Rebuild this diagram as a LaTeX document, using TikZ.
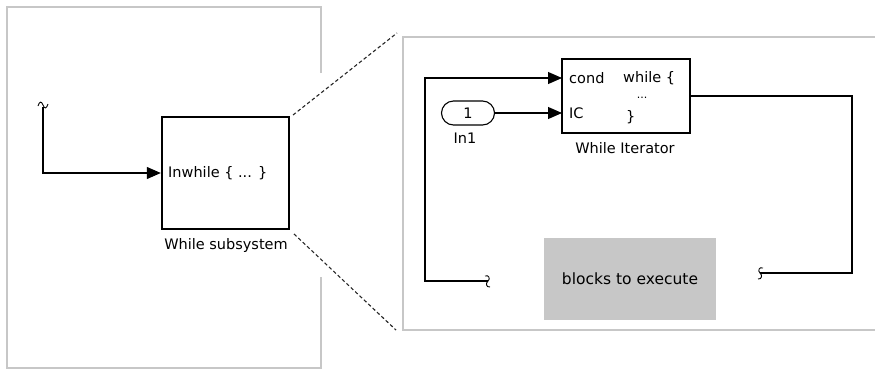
\documentclass[tikz,border=0pt]{standalone}
\usepackage{fontspec}
\setmainfont{DejaVu Sans}
\usetikzlibrary{arrows.meta,shapes.misc}
\begin{document}
\begin{tikzpicture}[x=1pt,y=-1pt,
  font=\fontsize{14.5}{16}\selectfont,
  wire/.style={draw=black, line width=1.1pt},
  arr/.style={-{Triangle[length=14pt,width=12pt]}},
  frame/.style={draw=black!22, line width=1.3pt},
  lbl/.style={inner sep=0pt},
  squig/.style={draw=black, line width=0.9pt},
  zoomline/.style={draw=black!85, line width=1.1pt, dash pattern=on 3.5pt off 2.5pt}]
\useasboundingbox (0,0) rectangle (875,378);
% left panel frame
\draw[frame] (321,73) -- (321,7) -- (7,7) -- (7,368) -- (321,368) -- (321,277);
% right panel frame
\draw[frame] (875,37) -- (403,37) -- (403,330) -- (875,330);
% while subsystem
\node[draw, line width=2.4pt, minimum width=127pt, minimum height=112pt, inner sep=0pt] (sub) at (225.5,173) {};
\node[lbl, anchor=west] (subtxt) at (168,173) {Inwhile \{ ... \}};
\node[lbl] (sublbl) at (226,245) {While subsystem};
% input to subsystem
\coordinate (in0) at (43,107);
\draw[wire,arr] (in0) |- (sub.west);
\draw[squig] (38,106) .. controls (39.5,101) and (41.5,101) .. (43,105) .. controls (44.5,109) and (46.5,109) .. (48,104);
% zoom lines
\coordinate (z1a) at (293,115);
\coordinate (z1b) at (397,33);
\coordinate (z2a) at (294,234);
\coordinate (z2b) at (396,330);
\draw[zoomline] (z1a) -- (z1b);
\draw[zoomline] (z2a) -- (z2b);
% while iterator
\node[draw, line width=1.1pt, minimum width=128pt, minimum height=74pt, inner sep=0pt] (wi) at (626,96) {};
\node[lbl, anchor=west] (tcond) at (569,78) {cond};
\node[lbl, anchor=west] (tic) at (569,113) {IC};
\node[lbl, anchor=west] (twhile) at (623,78) {while \{};
\node[lbl] (tdots) at (642,98) {\fontsize{11}{12}\selectfont ...};
\node[lbl, anchor=west] (tbrace) at (626,117) {\}};
\node[lbl] (wilbl) at (625,148) {While Iterator};
\coordinate (condport) at (562,78);
\coordinate (icport) at (562,113);
% In1
\node[draw, rounded rectangle, line width=1.1pt, minimum width=53pt, minimum height=24pt, inner sep=0pt] (in1) at (468,113) {1};
\node[lbl] (in1lbl) at (465,138) {In1};
\draw[wire,arr] (in1.east) -- (icport);
% cond loop
\coordinate (c0) at (488,281);
\coordinate (ccorner) at (425,78);
\draw[wire,arr] (c0) -| (ccorner) -- (condport);
\draw[squig] (485,276) .. controls (489,274.5) and (490.5,279) .. (488,281) .. controls (485.5,283) and (486,287.5) .. (490,287);
% output loop
\coordinate (o1) at (760,273);
\coordinate (ocorner) at (852,96);
\draw[wire] (wi.east) -- (ocorner) |- (o1);
\draw[squig] (763,268) .. controls (759,266.5) and (757.5,271) .. (760,273) .. controls (762.5,275) and (762,279.5) .. (758,279);
% blocks to execute
\node[fill=black!22, minimum width=172pt, minimum height=82pt, inner sep=0pt, font=\fontsize{15.5}{17}\selectfont] (blk) at (630,279) {blocks to execute};
\end{tikzpicture}
\end{document}
